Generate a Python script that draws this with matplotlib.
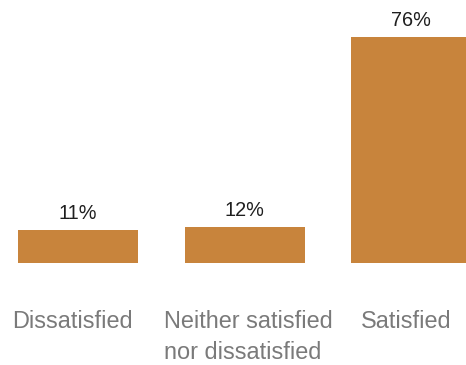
import matplotlib
matplotlib.use("Agg")
import matplotlib.pyplot as plt

categories = ["Dissatisfied", "Neither satisfied\nnor dissatisfied", "Satisfied"]
values = [11, 12, 76]
value_labels = ["11%", "12%", "76%"]

BAR_COLOR = "#C8843C"
LABEL_COLOR = "#7A7A7A"
VALUE_COLOR = "#1F1F1F"

W, H, DPI = 466, 365, 100
fig = plt.figure(figsize=(W / DPI, H / DPI), dpi=DPI)
plt.rcParams["font.family"] = ["Liberation Sans", "DejaVu Sans"]

# axes spans the full width; the last bar runs off the right edge
bottom_px = 102
ax = fig.add_axes([0, bottom_px / H, 1, (H - bottom_px) / H])
step = 166.5
first_center = 78
ax.set_xlim(-first_center / step, (W - first_center) / step)
px_per_unit = 226 / 76
ax.set_ylim(0, (H - bottom_px) / px_per_unit)
ax.axis("off")

x = list(range(len(values)))
bars = ax.bar(x, values, width=120 / step, color=BAR_COLOR)

for xi, v, lab in zip(x, values, value_labels):
    ax.annotate(lab, (xi, v), xytext=(0, 11), textcoords="offset pixels",
                ha="center", va="baseline", fontsize=14.3, color=VALUE_COLOR)

# horizontal nudges for the category captions (pixels)
label_dx = [-6, 4, -5]
for xi, cat, dx in zip(x, categories, label_dx):
    ax.annotate(cat, (xi, 0), xycoords=("data", "axes fraction"),
                xytext=(dx, -47), textcoords="offset pixels",
                ha="center", va="top", multialignment="left",
                fontsize=16.9, color=LABEL_COLOR, linespacing=1.42,
                annotation_clip=False)

fig.savefig("out.png", dpi=DPI)
